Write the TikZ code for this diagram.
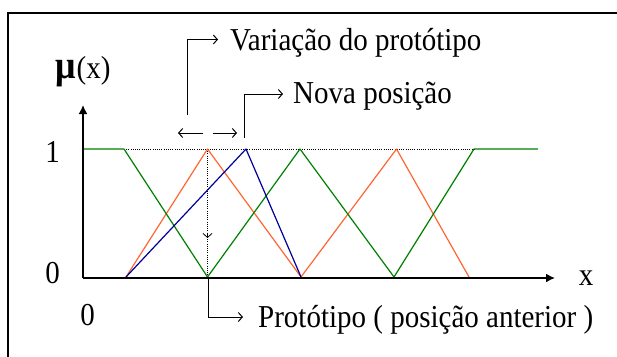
\documentclass[tikz,border=0pt]{standalone}
\usepackage{fontspec}
\setmainfont{Liberation Serif}
\usetikzlibrary{arrows.meta}
\definecolor{fgreen}{RGB}{0,128,0}
\definecolor{forange}{RGB}{255,102,51}
\definecolor{fblue}{RGB}{0,0,153}
\newcommand{\tx}[1]{\scalebox{1}[1.1]{#1}}
\tikzset{
  lbl/.style={inner sep=0pt, anchor=base west, font=\fontsize{29}{29}\selectfont},
  axisline/.style={line width=1.6pt, -{Latex[length=9pt,width=9pt]}},
  conn/.style={line width=1pt, -{Straight Barb[length=4pt,width=9pt]}},
  curve/.style={line width=1.2pt, line join=round},
  dotline/.style={line width=0.8pt, dash pattern=on 1pt off 1.2pt},
}
\begin{document}
\begin{tikzpicture}[x=1pt,y=-1pt]
\path[use as bounding box] (0,0) rectangle (617,356);
% frame (only top and left edges are inside the picture)
\coordinate (fbl) at (7.5,360);
\coordinate (ftl) at (7.5,13);
\coordinate (ftr) at (625,13);
\draw[line width=2pt] (fbl) -- (ftl) -- (ftr);
% coordinates
\coordinate (O) at (83,278);
\coordinate (Ytop) at (83,105);
\coordinate (Xend) at (555,278);
\coordinate (g0) at (83,149);
\coordinate (g1) at (124,149);
\coordinate (g2) at (207.5,277);
\coordinate (g3) at (300,149);
\coordinate (g4) at (394,277);
\coordinate (g5) at (474,149);
\coordinate (g6) at (538,149);
\coordinate (o0) at (126,277);
\coordinate (o1) at (207.5,149);
\coordinate (o2) at (301,277);
\coordinate (o3) at (396.5,149);
\coordinate (o4) at (469,277);
\coordinate (b0) at (126,277);
\coordinate (b1) at (246,149);
\coordinate (b2) at (301,277);
\coordinate (dv) at (207.5,238);
\coordinate (dvs) at (207.5,234);
\coordinate (dvb) at (207.5,277);
% dotted lines
\draw[dotline] (g1) -- (g5);
\draw[dotline] (o1) -- (dvb);
\draw[line width=0.8pt, -{Straight Barb[length=4pt,width=9pt]}] (dvs) -- (dv);
% curves
\draw[curve, forange] (o0) -- (o1) -- (o2) -- (o3) -- (o4);
\draw[curve, fgreen] (g0) -- (g1) -- (g2) -- (g3) -- (g4) -- (g5) -- (g6);
\draw[curve, fblue] (b0) -- (b1) -- (b2);
% axes
\draw[axisline] (O) -- (Ytop);
\draw[axisline] (O) -- (Xend);
% labels
\node[lbl] (mu) at (55,78) {\tx{\fontsize{36}{36}\selectfont\bfseries μ}\hspace{1pt}\tx{(x)}};
\node[lbl, anchor=base] (one) at (52.5,162) {\tx{1}};
\node[lbl, anchor=base] (zero) at (52.5,283) {\tx{0}};
\node[lbl, anchor=base] (zerox) at (87.5,325) {\tx{0}};
\node[lbl, anchor=base] (xl) at (586,285) {\tx{x}};
\node[lbl] (var) at (230,50) {\tx{Variação do protótipo}};
\node[lbl] (nova) at (293,103) {\tx{Nova posição}};
\node[lbl] (prot) at (258,327) {\tx{Protótipo ( posição anterior )}};
% connectors
\coordinate (v0) at (187,115);
\coordinate (v1) at (187,39.5);
\coordinate (v2) at (218,39.5);
\draw[conn] (v0) -- (v1) -- (v2);
\coordinate (n0) at (244,138);
\coordinate (n1) at (244,94);
\coordinate (n2) at (283,94);
\draw[conn] (n0) -- (n1) -- (n2);
\coordinate (p0) at (208,278);
\coordinate (p1) at (208,317);
\coordinate (p2) at (243,317);
\draw[conn] (p0) -- (p1) -- (p2);
\coordinate (la) at (203,133);
\coordinate (lb) at (178,133);
\coordinate (ra) at (213,133);
\coordinate (rb) at (237,133);
\draw[conn] (la) -- (lb);
\draw[conn] (ra) -- (rb);
\end{tikzpicture}
\end{document}
